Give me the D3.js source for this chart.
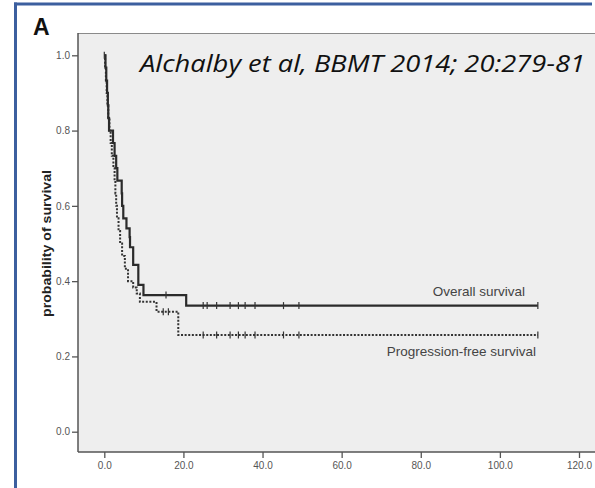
<!DOCTYPE html>
<html><head><meta charset="utf-8">
<script src="https://cdn.jsdelivr.net/npm/d3@7"></script>
<style>html,body{margin:0;padding:0;background:#fff;}svg{display:block;}</style>
</head><body>
<script>
// ---- data ----
const xTicks = [0, 20, 40, 60, 80, 100, 120];
const yTicks = [0, 0.2, 0.4, 0.6, 0.8, 1.0];
const osTimes = [0, 0.3, 0.5, 0.7, 0.9, 1.0, 1.2, 2.2, 2.6, 3.0, 3.3, 4.4, 4.5, 4.8, 5.6, 6.4, 6.5, 7.3, 8.6, 9.9, 20.7, 109.6];
const osSurvival = [1.0, 0.967, 0.933, 0.9, 0.867, 0.833, 0.8, 0.767, 0.733, 0.7, 0.667, 0.633, 0.6, 0.567, 0.54, 0.517, 0.49, 0.443, 0.39, 0.363, 0.335, 0.335];
const pfsTimes = [0, 0.2, 0.4, 0.6, 0.8, 1.0, 1.3, 1.6, 1.9, 2.3, 2.6, 2.8, 3.0, 3.2, 3.6, 4.0, 4.5, 5.2, 6.0, 7.3, 8.2, 9.0, 13.2, 18.7, 109.6];
const pfsSurvival = [1.0, 0.967, 0.933, 0.9, 0.867, 0.833, 0.8, 0.767, 0.733, 0.7, 0.667, 0.633, 0.6, 0.567, 0.533, 0.5, 0.467, 0.433, 0.4, 0.383, 0.367, 0.345, 0.319, 0.257, 0.257];
const osCensor = [0, 15.6, 25, 26, 28.4, 31.8, 33.9, 35.6, 38.1, 45.3, 49.2, 109.6];
const pfsCensor = [14.9, 16.2, 25, 28.4, 31.8, 33.9, 35.6, 38.1, 45.3, 49.2, 109.6];
const seriesLabels = ["Overall survival", "Progression-free survival"];
const panelLabel = "A";
const citation = "Alchalby et al, BBMT 2014; 20:279-81";
const yTitle = "probability of survival";

const W = 595, H = 488;
const svg = d3.select("body").append("svg").attr("width", W).attr("height", H);

const x = d3.scaleLinear().domain([0, 120]).range([104.3, 579]);
const y = d3.scaleLinear().domain([0, 1]).range([431.7, 55.3]);
const plotL = 78, plotT = 33, plotB = 452, plotR = W;

// plot background
svg.append("rect").attr("x", plotL).attr("y", plotT).attr("width", plotR - plotL).attr("height", plotB - plotT).attr("fill", "#eeeeee");
svg.append("line").attr("x1", plotL).attr("x2", plotR).attr("y1", plotT + 0.5).attr("y2", plotT + 0.5).attr("stroke", "#8a8a8a").attr("stroke-width", 1);
svg.append("line").attr("x1", plotL).attr("x2", plotL).attr("y1", plotT).attr("y2", plotB).attr("stroke", "#555").attr("stroke-width", 1.5);
svg.append("line").attr("x1", plotL).attr("x2", plotR).attr("y1", plotB).attr("y2", plotB).attr("stroke", "#555").attr("stroke-width", 1.5);

// blue frame
svg.append("line").attr("x1", 14).attr("x2", 592).attr("y1", 4).attr("y2", 4).attr("stroke", "#3c5f9f").attr("stroke-width", 3);
svg.append("line").attr("x1", 15.5).attr("x2", 15.5).attr("y1", 2.5).attr("y2", H).attr("stroke", "#3c5f9f").attr("stroke-width", 3);

// axes
const yAxis = d3.axisLeft(y).tickValues(yTicks).tickFormat(d3.format(".1f")).tickSize(6).tickPadding(2);
const gy = svg.append("g").attr("transform", `translate(${plotL},0)`).call(yAxis);
gy.select(".domain").remove();
gy.selectAll(".tick line").attr("stroke", "#555").attr("stroke-width", 1.3);
gy.selectAll(".tick text").attr("fill", "#555").attr("font-size", "10px").attr("font-family", "Liberation Sans, Arial, sans-serif");

const xAxis = d3.axisBottom(x).tickValues(xTicks).tickFormat(d3.format(".1f")).tickSize(6).tickPadding(4);
const gx = svg.append("g").attr("transform", `translate(0,${plotB})`).call(xAxis);
gx.select(".domain").remove();
gx.selectAll(".tick line").attr("stroke", "#555").attr("stroke-width", 1.3);
gx.selectAll(".tick text").attr("fill", "#555").attr("font-size", "10px").attr("font-family", "Liberation Sans, Arial, sans-serif");

// curves
function stepPoints(ts, ss) { return ts.map((t, i) => [t, ss[i]]); }
function survAt(ts, ss, t) { let s = ss[0]; for (let i = 0; i < ts.length; i++) { if (ts[i] <= t) s = ss[i]; } return s; }
const line = d3.line().x(d => x(d[0])).y(d => y(d[1])).curve(d3.curveStepAfter);

svg.append("path").attr("d", line(stepPoints(pfsTimes, pfsSurvival)))
  .attr("fill", "none").attr("stroke", "#333").attr("stroke-width", 2).attr("stroke-dasharray", "2,1.6");
svg.append("path").attr("d", line(stepPoints(osTimes, osSurvival)))
  .attr("fill", "none").attr("stroke", "#2b2b2b").attr("stroke-width", 2.2);

// censor marks
function censor(times, ts, ss) {
  svg.append("g").selectAll("line").data(times).join("line")
    .attr("x1", d => x(d)).attr("x2", d => x(d))
    .attr("y1", d => y(survAt(ts, ss, d)) - 3.5).attr("y2", d => y(survAt(ts, ss, d)) + 3.5)
    .attr("stroke", "#333").attr("stroke-width", 1.2);
}
censor(osCensor, osTimes, osSurvival);
censor(pfsCensor, pfsTimes, pfsSurvival);

// series labels
svg.append("text").attr("x", 525).attr("y", 296).attr("text-anchor", "end")
  .attr("font-family", "Liberation Sans, Arial, sans-serif").attr("font-size", "13.5px").attr("fill", "#444").text(seriesLabels[0]);
svg.append("text").attr("x", 536).attr("y", 356).attr("text-anchor", "end")
  .attr("font-family", "Liberation Sans, Arial, sans-serif").attr("font-size", "13.5px").attr("fill", "#444").text(seriesLabels[1]);

// panel label and citation
svg.append("text").attr("x", 33).attr("y", 35).attr("font-family", "Liberation Sans, Arial, sans-serif")
  .attr("font-weight", "bold").attr("font-size", "23px").attr("fill", "#111").text(panelLabel);
svg.append("text").attr("x", 140).attr("y", 72).attr("font-family", "Open Sans, sans-serif")
  .attr("font-style", "italic").attr("font-size", "23.5px").attr("fill", "#111")
  .attr("textLength", 445).attr("lengthAdjust", "spacingAndGlyphs").text(citation);

// y title
svg.append("text").attr("transform", "translate(51,243.5) rotate(-90)").attr("text-anchor", "middle")
  .attr("font-family", "Liberation Sans, Arial, sans-serif").attr("font-weight", "bold").attr("font-size", "12.5px")
  .attr("fill", "#222").attr("textLength", 147).attr("lengthAdjust", "spacingAndGlyphs").text(yTitle);
</script>
</body></html>
